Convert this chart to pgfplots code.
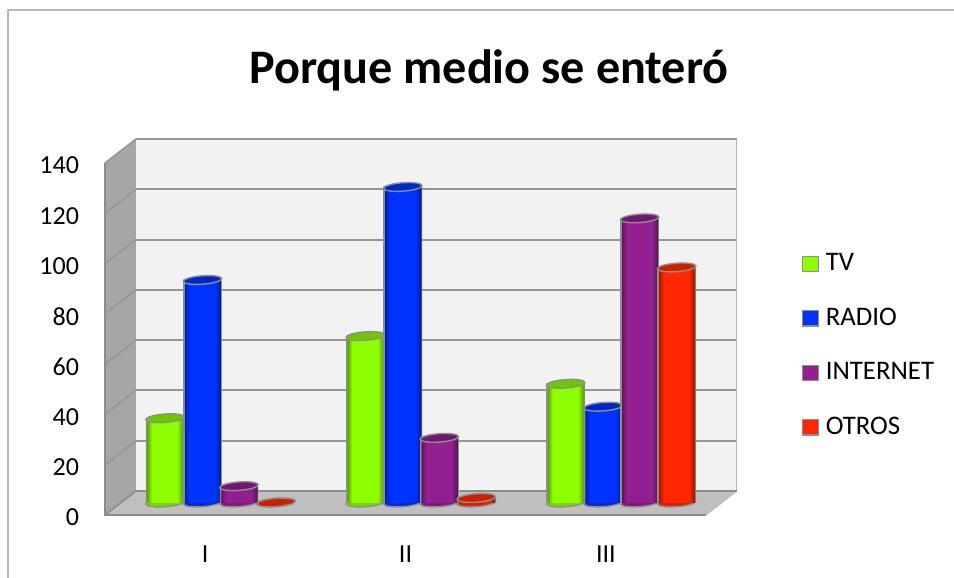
\documentclass[border=0pt]{standalone}
\usepackage{fontspec}
\setmainfont{Carlito}
\usepackage{pgfplots}
\usepackage{pgfplotstable}
\pgfplotsset{compat=1.18}

\definecolor{wallback}{HTML}{F2F2F2}
\definecolor{wallside}{HTML}{A6A6A6}
\definecolor{wallfloor}{HTML}{BFBFBF}
\definecolor{gridc}{HTML}{969696}
\definecolor{edgec}{HTML}{8E8E8E}
\definecolor{cTV}{HTML}{8DFF00}
\definecolor{cRADIO}{HTML}{0033FF}
\definecolor{cINT}{HTML}{922091}
\definecolor{cOTROS}{HTML}{FF2600}
\definecolor{topTV}{HTML}{6CC800}
\definecolor{topRADIO}{HTML}{0028C8}
\definecolor{topINT}{HTML}{701870}
\definecolor{topOTROS}{HTML}{CC2000}

% cylinder side: grey rim, dark edge, bright body, dark edge, grey rim
\newcommand\cylshade[3]{%
  \pgfdeclarehorizontalshading{#1}{100bp}{%
    color(0bp)=(edgec); color(25bp)=(edgec); color(26bp)=(edgec);
    color(26.5bp)=(#3); color(33bp)=(#2); color(66bp)=(#2);
    color(73.5bp)=(#3); color(74bp)=(edgec); color(75bp)=(edgec); color(100bp)=(edgec)}}
\colorlet{dTV}{cTV!62!black}
\colorlet{dRADIO}{cRADIO!62!black}
\colorlet{dINT}{cINT!62!black}
\colorlet{dOTROS}{cOTROS!62!black}
\cylshade{shTV}{cTV}{dTV}
\cylshade{shRADIO}{cRADIO}{dRADIO}
\cylshade{shINT}{cINT}{dINT}
\cylshade{shOTROS}{cOTROS}{dOTROS}

\pgfdeclareplotmark{cylcap}{%
  \pgfpathellipse{\pgfqpoint{0pt}{0pt}}{\pgfqpoint{9.6pt}{0.7pt}}{\pgfqpoint{-0.1pt}{2.1pt}}%
  \pgfusepathqfillstroke}

\pgfplotstableread{
x tv   radio internet otros
0 33.5 88.5  6.5      0
1 66.2 125.5 25.7     1.8
2 47.2 38.1  113      93.5
}\datos

% #1 column, #2 colour suffix, #3 offset from the tick
% one bar at a time, a single path would stretch the shading over the whole series
\newcommand\cyl[3]{%
  \addplot[forget plot,only marks,mark=cylcap,xshift=#3,yshift=6.25pt,
    mark options={fill=c#2!85!black,draw=edgec,line width=0.7pt}]
    table[x=x,y expr=0*\thisrow{#1}] {\datos};
  \addplot[forget plot,ybar,bar width=19.2pt,bar shift=#3,yshift=6.25pt,draw=none,
    shade,shading=sh#2,restrict x to domain=0:0] table[x=x,y=#1] {\datos};
  \addplot[forget plot,ybar,bar width=19.2pt,bar shift=#3,yshift=6.25pt,draw=none,
    shade,shading=sh#2,restrict x to domain=1:1] table[x=x,y=#1] {\datos};
  \addplot[forget plot,ybar,bar width=19.2pt,bar shift=#3,yshift=6.25pt,draw=none,
    shade,shading=sh#2,restrict x to domain=2:2] table[x=x,y=#1] {\datos};
  \addplot[forget plot,only marks,mark=cylcap,xshift=#3,yshift=6.25pt,
    mark options={fill=top#2,draw=edgec,line width=0.7pt}]
    table[x=x,y=#1] {\datos};
}

\begin{document}
\begin{tikzpicture}
\useasboundingbox (0,0) rectangle (477pt,289pt);
\draw[color=black!28,line width=0.6pt] (4pt,0) -- (4pt,284pt) -- (477pt,284pt);
\begin{axis}[
  at={(52.5pt,31.5pt)},anchor=south west,
  scale only axis,width=300.5pt,height=176pt,
  clip=false,clip mode=individual,
  xmin=-0.5,xmax=2.5,ymin=0,ymax=140,
  xtick={0,1,2},xticklabels={I,II,III},
  ytick={0,20,...,140},
  axis line style={draw=none},
  tick style={draw=none},
  tick label style={font=\fontsize{13}{15}\selectfont},
  /pgf/number format/assume math mode=true,
  yticklabel style={xshift=-9.5pt,yshift=-1.2pt},
  xticklabel style={yshift=-12pt},
  title={Porque medio se enteró},
  title style={at={(0.639,1.228)},anchor=center,font=\fontsize{24.1}{28}\selectfont\bfseries},
  legend cell align=left,
  legend style={draw=none,fill=none,at={(1.1595,0.749)},anchor=north west,
    font=\fontsize{13.4}{15}\selectfont,row sep=15.1pt,inner sep=0pt,
    nodes={inner sep=1pt}},
  legend image code/.code={\draw[#1,draw=edgec,line width=0.6pt] (0pt,-3.8pt) rectangle (7.7pt,3.8pt);
    \path[draw=none,fill=none] (0pt,0pt) -- (10.5pt,0pt);},
]
% walls
\addplot[forget plot,fill=wallback,draw=none,xshift=15.5pt,yshift=12pt]
  coordinates {(-0.5,0) (2.5,0) (2.5,140) (-0.5,140)} -- cycle;
\addplot[forget plot,fill=wallfloor,draw=none]
  coordinates {(-0.5,0) (2.5,0) (2.6547,9.55) (-0.3453,9.55)} -- cycle;
\addplot[forget plot,fill=wallside,draw=none]
  coordinates {(-0.5,0) (-0.5,140) (-0.3453,149.55) (-0.3453,9.55)} -- cycle;
% grid on the back wall
\addplot[forget plot,gridc,line width=1pt,xshift=15.5pt,yshift=12pt] coordinates {(-0.5,20) (2.5,20)};
\addplot[forget plot,gridc,line width=1pt,xshift=15.5pt,yshift=12pt] coordinates {(-0.5,40) (2.5,40)};
\addplot[forget plot,gridc,line width=1pt,xshift=15.5pt,yshift=12pt] coordinates {(-0.5,60) (2.5,60)};
\addplot[forget plot,gridc,line width=1pt,xshift=15.5pt,yshift=12pt] coordinates {(-0.5,80) (2.5,80)};
\addplot[forget plot,gridc,line width=1pt,xshift=15.5pt,yshift=12pt] coordinates {(-0.5,100) (2.5,100)};
\addplot[forget plot,gridc,line width=1pt,xshift=15.5pt,yshift=12pt] coordinates {(-0.5,120) (2.5,120)};
\addplot[forget plot,gridc,line width=1pt,xshift=15.5pt,yshift=12pt] coordinates {(-0.5,140) (2.5,140)};
% grid on the side wall
\addplot[forget plot,gridc,line width=0.8pt] coordinates {(-0.5,20) (-0.3453,29.55)};
\addplot[forget plot,gridc,line width=0.8pt] coordinates {(-0.5,40) (-0.3453,49.55)};
\addplot[forget plot,gridc,line width=0.8pt] coordinates {(-0.5,60) (-0.3453,69.55)};
\addplot[forget plot,gridc,line width=0.8pt] coordinates {(-0.5,80) (-0.3453,89.55)};
\addplot[forget plot,gridc,line width=0.8pt] coordinates {(-0.5,100) (-0.3453,109.55)};
\addplot[forget plot,gridc,line width=0.8pt] coordinates {(-0.5,120) (-0.3453,129.55)};
\addplot[forget plot,gridc,line width=0.8pt] coordinates {(-0.5,140) (-0.3453,149.55)};
% wall edges
\addplot[forget plot,black!30,line width=0.5pt] coordinates {(2.6547,9.55) (2.6547,149.55)};
\addplot[forget plot,wallside!85!black,line width=1pt] coordinates {(-0.5,140) (-0.5,0) (2.5,0)};
\addplot[forget plot,black!25,line width=0.5pt] coordinates {(2.5,0) (2.6547,9.55)};
\addplot[forget plot,wallside!85!black,line width=0.8pt] coordinates {(-0.5,0) (-0.3453,9.55) (2.6547,9.55)};

\cyl{tv}{TV}{-20.1pt}
\cyl{radio}{RADIO}{-1.35pt}
\cyl{internet}{INT}{16.9pt}
\cyl{otros}{OTROS}{35.4pt}

\addlegendimage{fill=cTV}\addlegendentry{TV}
\addlegendimage{fill=cRADIO}\addlegendentry{RADIO}
\addlegendimage{fill=cINT}\addlegendentry{INTERNET}
\addlegendimage{fill=cOTROS}\addlegendentry{OTROS}
\end{axis}
\end{tikzpicture}
\end{document}
